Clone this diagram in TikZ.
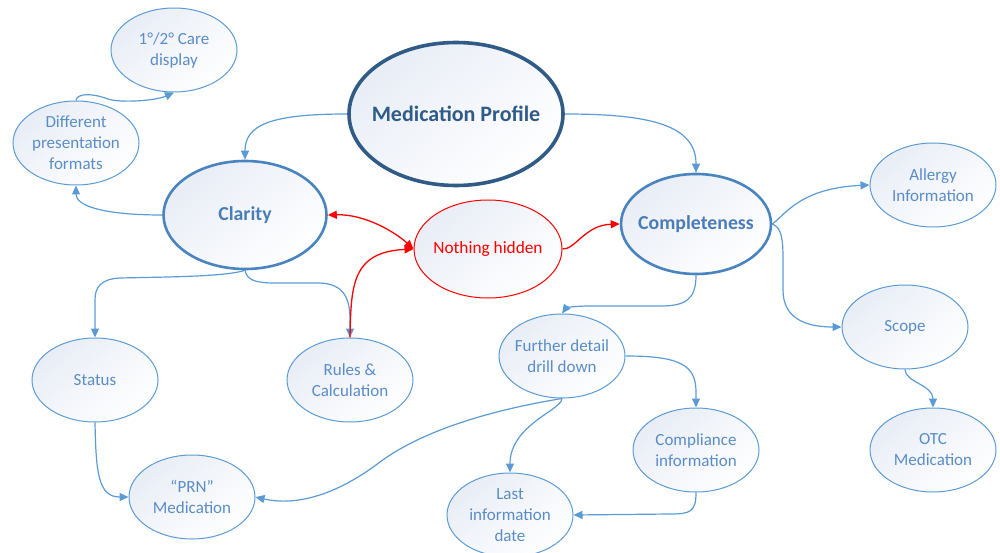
\documentclass[tikz,border=0pt]{standalone}
\usepackage{fontspec}
\setmainfont{Carlito}
\usetikzlibrary{shapes.geometric,arrows.meta}
\definecolor{lineblue}{HTML}{5B9BD5}
\definecolor{txtblue}{HTML}{5A8DC8}
\definecolor{midblue}{HTML}{4A84BF}
\definecolor{midtxt}{HTML}{4A7DB7}
\definecolor{darkblue}{HTML}{305B86}
\definecolor{fillblue}{HTML}{E8EDF6}
\definecolor{red}{HTML}{FF0000}
\tikzset{
  bubble/.style={ellipse, inner sep=0pt, draw=lineblue, line width=1pt,
    top color=fillblue, bottom color=white, shading angle=40,
    minimum width=126pt, minimum height=84pt},
  btext/.style={text=txtblue, align=center, inner sep=0pt, font=\fontsize{17}{21}\selectfont},
  mainbubble/.style={bubble, draw=midblue, line width=2.6pt},
  mtext/.style={btext, text=midtxt, font=\fontsize{19.8}{23}\selectfont\bfseries},
  topbubble/.style={bubble, draw=darkblue, line width=3.6pt},
  ttext/.style={btext, text=darkblue, font=\fontsize{22}{25}\selectfont\bfseries},
  redbubble/.style={bubble, draw=red},
  rtext/.style={btext, text=red, font=\fontsize{17.3}{21}\selectfont},
  conn/.style={draw=lineblue, line width=1.2pt, -{Triangle[length=9pt,width=8pt]}},
  redconn/.style={draw=red, line width=1.3pt, -{Triangle[length=9pt,width=8pt]}},
}
\begin{document}
\begin{tikzpicture}[x=1pt,y=-1pt]
\useasboundingbox (0,0) rectangle (1000,553);
% nodes
\node[topbubble, minimum width=214pt, minimum height=143pt, label={[ttext]center:Medication Profile}] (mp) at (456,114) {};
\node[mainbubble, minimum width=163pt, minimum height=108pt, label={[mtext]center:Clarity}] (cl) at (245,215) {};
\node[mainbubble, minimum width=150pt, minimum height=100pt, label={[mtext]center:Completeness}] (co) at (696,224) {};
\node[redbubble, minimum width=148pt, minimum height=98pt, label={[rtext]center:Nothing hidden}] (nh) at (488,249) {};
\node[bubble, label={[btext]center:1°/2° Care\\display}] (ca) at (174,50) {};
\node[bubble, label={[btext]center:Different\\presentation\\formats}] (df) at (76,143) {};
\node[bubble, label={[btext]center:Allergy\\Information}] (al) at (933,185) {};
\node[bubble, label={[btext]center:Scope}] (sc) at (905,327) {};
\node[bubble, label={[btext]center:OTC\\Medication}] (ot) at (933,450) {};
\node[bubble, label={[btext]center:Compliance\\information}] (cp) at (696,450) {};
\node[bubble, label={[btext]center:Further detail\\drill down}] (fd) at (562,356) {};
\node[bubble, label={[btext]center:Last\\information\\date}] (ls) at (510,515) {};
\node[bubble, label={[btext]center:Status}] (st) at (95,380) {};
\node[bubble, label={[btext]center:Rules \&\\Calculation}] (ru) at (350,380) {};
\node[bubble, label={[btext]center:“PRN”\\Medication}] (pr) at (192,497) {};
% blue connectors
\draw[conn] (mp.west) .. controls (270,114) and (245,125) .. (cl.north);
\draw[conn] (mp.east) .. controls (650,114) and (696,125) .. (co.north);
\draw[conn] (cl.west) .. controls (100,215) and (76,205) .. (df.south);
\draw[conn] (df.north) .. controls (77,93) and (92,93) .. (108,99) .. controls (120,103) and (155,101) .. (ca.south);
\draw[conn] (cl.south) .. controls (225,277) and (160,277) .. (120,278) .. controls (100,279) and (95,288) .. (95,300) -- (st.north);
\draw[conn] (cl.south) .. controls (247,280) and (255,283) .. (275,283) -- (320,283) .. controls (345,284) and (350,300) .. (350,320) -- (ru.north);
\draw[conn] (co.south) .. controls (696,300) and (685,306) .. (660,306) -- (590,306) .. controls (575,306) and (566,308) .. (fd.north);
\draw[conn] (co.east) .. controls (785,215) and (800,188) .. (al.west);
\draw[conn] (co.east) .. controls (782,228) and (783,240) .. (783,260) -- (783,290) .. controls (783,318) and (805,327) .. (sc.west);
\draw[conn] (sc.south) .. controls (905,382) and (933,385) .. (ot.north);
\draw[conn] (fd.east) .. controls (680,356) and (696,365) .. (696,392) -- (cp.north);
\draw[conn] (fd.south) .. controls (562,410) and (510,425) .. (ls.north);
\draw[conn] (fd.south) .. controls (510,407) and (430,425) .. (380,462) .. controls (330,500) and (290,505) .. (pr.east);
\draw[conn] (st.south) .. controls (96,472) and (98,497) .. (pr.west);
\draw[conn] (cp.south) .. controls (696,512) and (690,514) .. (670,514) -- (ls.east);
% red connectors
\draw[redconn, {Triangle[length=9pt,width=8pt]}-{Triangle[length=9pt,width=8pt]}] (cl.east) .. controls (365,214) and (395,232) .. (nh.west);
\draw[redconn] (ru.north) .. controls (351,285) and (352,252) .. (nh.west);
\draw[redconn] (nh.east) .. controls (575,250) and (585,225) .. (co.west);
\end{tikzpicture}
\end{document}
